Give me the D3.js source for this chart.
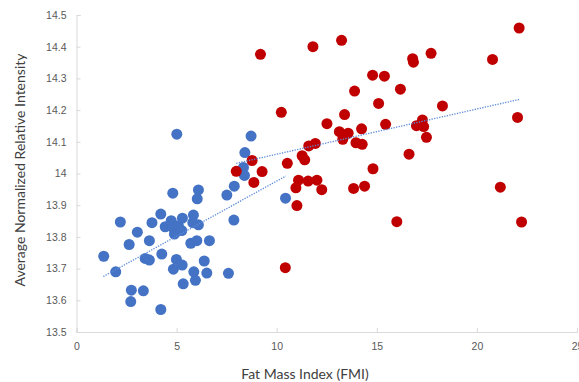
<!DOCTYPE html>
<html>
<head>
<meta charset="utf-8">
<script src="https://cdn.jsdelivr.net/npm/d3@7"></script>
<style>
  body { margin: 0; background: #fff; }
  svg { display: block; font-family: Lato, "Open Sans", sans-serif; }
</style>
</head>
<body>
<div id="chart"></div>
<script>
// values: [FMI, intensity]
const bluePoints = [
  [1.36, 13.739], [1.96, 13.690], [2.19, 13.847], [2.63, 13.776], [2.71, 13.596],
  [2.74, 13.632], [3.04, 13.815], [3.34, 13.630], [3.43, 13.732], [3.64, 13.727],
  [3.64, 13.788], [3.77, 13.845], [4.21, 13.571], [4.21, 13.872], [4.26, 13.746],
  [4.43, 13.832], [4.73, 13.851], [4.81, 13.830], [4.81, 13.938], [4.84, 13.698],
  [4.89, 13.809], [4.98, 13.816], [4.99, 13.729], [5.01, 14.124], [5.09, 13.835],
  [5.26, 13.820], [5.28, 13.711], [5.29, 13.859], [5.33, 13.652], [5.71, 13.780],
  [5.81, 13.845], [5.84, 13.869], [5.86, 13.690], [5.94, 13.663], [6.01, 13.788],
  [6.03, 13.920], [6.09, 13.838], [6.09, 13.948], [6.38, 13.724], [6.51, 13.686],
  [6.64, 13.788], [7.51, 13.932], [7.59, 13.685], [7.86, 13.853], [7.88, 13.960],
  [8.34, 14.019], [8.39, 13.994], [8.41, 14.066], [8.72, 14.118], [10.44, 13.922]
];
const redPoints = [
  [7.98, 14.007], [8.77, 14.041], [8.86, 13.972], [9.19, 14.376], [9.27, 14.006],
  [10.23, 14.193], [10.43, 13.703], [10.53, 14.032], [10.96, 13.955], [11.01, 13.899],
  [11.09, 13.979], [11.27, 14.056], [11.40, 14.043], [11.57, 13.976], [11.60, 14.087],
  [11.81, 14.400], [11.93, 14.095], [12.01, 13.979], [12.25, 13.949], [12.51, 14.157],
  [13.13, 14.132], [13.24, 14.420], [13.30, 14.108], [13.39, 14.186], [13.57, 14.127],
  [13.84, 13.953], [13.89, 14.260], [13.96, 14.097], [14.24, 14.141], [14.27, 14.092],
  [14.39, 13.960], [14.79, 14.310], [14.81, 14.015], [15.09, 14.221], [15.38, 14.307],
  [15.44, 14.155], [16.00, 13.848], [16.18, 14.266], [16.61, 14.061], [16.79, 14.362],
  [16.83, 14.351], [16.98, 14.151], [17.28, 14.169], [17.34, 14.148], [17.48, 14.114],
  [17.71, 14.379], [18.28, 14.213], [20.78, 14.360], [21.17, 13.957], [22.03, 14.177],
  [22.11, 14.459], [22.23, 13.847]
];
// dotted linear trendlines (end points)
const blueTrend = [[1.34, 13.675], [10.46, 13.992]];
const redTrend = [[7.98, 14.032], [22.14, 14.234]];

const xTicks = [0, 5, 10, 15, 20, 25];
const yTicks = [13.5, 13.6, 13.7, 13.8, 13.9, 14, 14.1, 14.2, 14.3, 14.4, 14.5];
const xTitle = 'Fat Mass Index (FMI)';
const yTitle = 'Average Normalized Relative Intensity';

const width = 579, height = 382;
const margin = { top: 15, right: 2, bottom: 50, left: 76.5 };

const svg = d3.select('#chart').append('svg')
  .attr('width', width)
  .attr('height', height);

const x = d3.scaleLinear()
  .domain([0, 25])
  .range([margin.left, width - margin.right]);

const y = d3.scaleLinear()
  .domain([13.5, 14.5])
  .range([height - margin.bottom, margin.top]);

// axes
const xAxis = svg.append('g')
  .attr('transform', `translate(0,${y(13.5)})`)
  .call(d3.axisBottom(x).tickValues(xTicks).tickSize(-4).tickPadding(11).tickFormat(d3.format('d')));

const yAxis = svg.append('g')
  .attr('transform', `translate(${x(0)},0)`)
  .call(d3.axisLeft(y).tickValues(yTicks).tickSize(-4).tickPadding(10).tickFormat(d => d === 14 ? '14' : d3.format('.1f')(d)));

[xAxis, yAxis].forEach(g => {
  g.select('.domain').attr('stroke', '#d9d9d9');
  g.selectAll('.tick line').attr('stroke', '#d9d9d9');
  g.selectAll('.tick text').attr('fill', '#595959').style('font-size', '10.5px');
});

// points
svg.append('g')
  .attr('fill', '#4472c4')
  .selectAll('circle')
  .data(bluePoints)
  .join('circle')
  .attr('cx', d => x(d[0]))
  .attr('cy', d => y(d[1]))
  .attr('r', 5.5);

svg.append('g')
  .attr('fill', '#c00000')
  .selectAll('circle')
  .data(redPoints)
  .join('circle')
  .attr('cx', d => x(d[0]))
  .attr('cy', d => y(d[1]))
  .attr('r', 5.5);

// trendlines
const line = d3.line().x(d => x(d[0])).y(d => y(d[1]));
[blueTrend, redTrend].forEach(t => {
  svg.append('path')
    .attr('d', line(t))
    .attr('fill', 'none')
    .attr('stroke', '#5b8bd9')
    .attr('stroke-width', 1.3)
    .attr('stroke-dasharray', '1.3,1.3');
});

// titles
svg.append('text')
  .attr('x', 305)
  .attr('y', 379)
  .attr('text-anchor', 'middle')
  .attr('fill', '#404040')
  .style('font-size', '14px')
  .text(xTitle);

svg.append('text')
  .attr('transform', 'translate(25,170) rotate(-90)')
  .attr('text-anchor', 'middle')
  .attr('fill', '#404040')
  .style('font-size', '14px')
  .text(yTitle);
</script>
</body>
</html>
